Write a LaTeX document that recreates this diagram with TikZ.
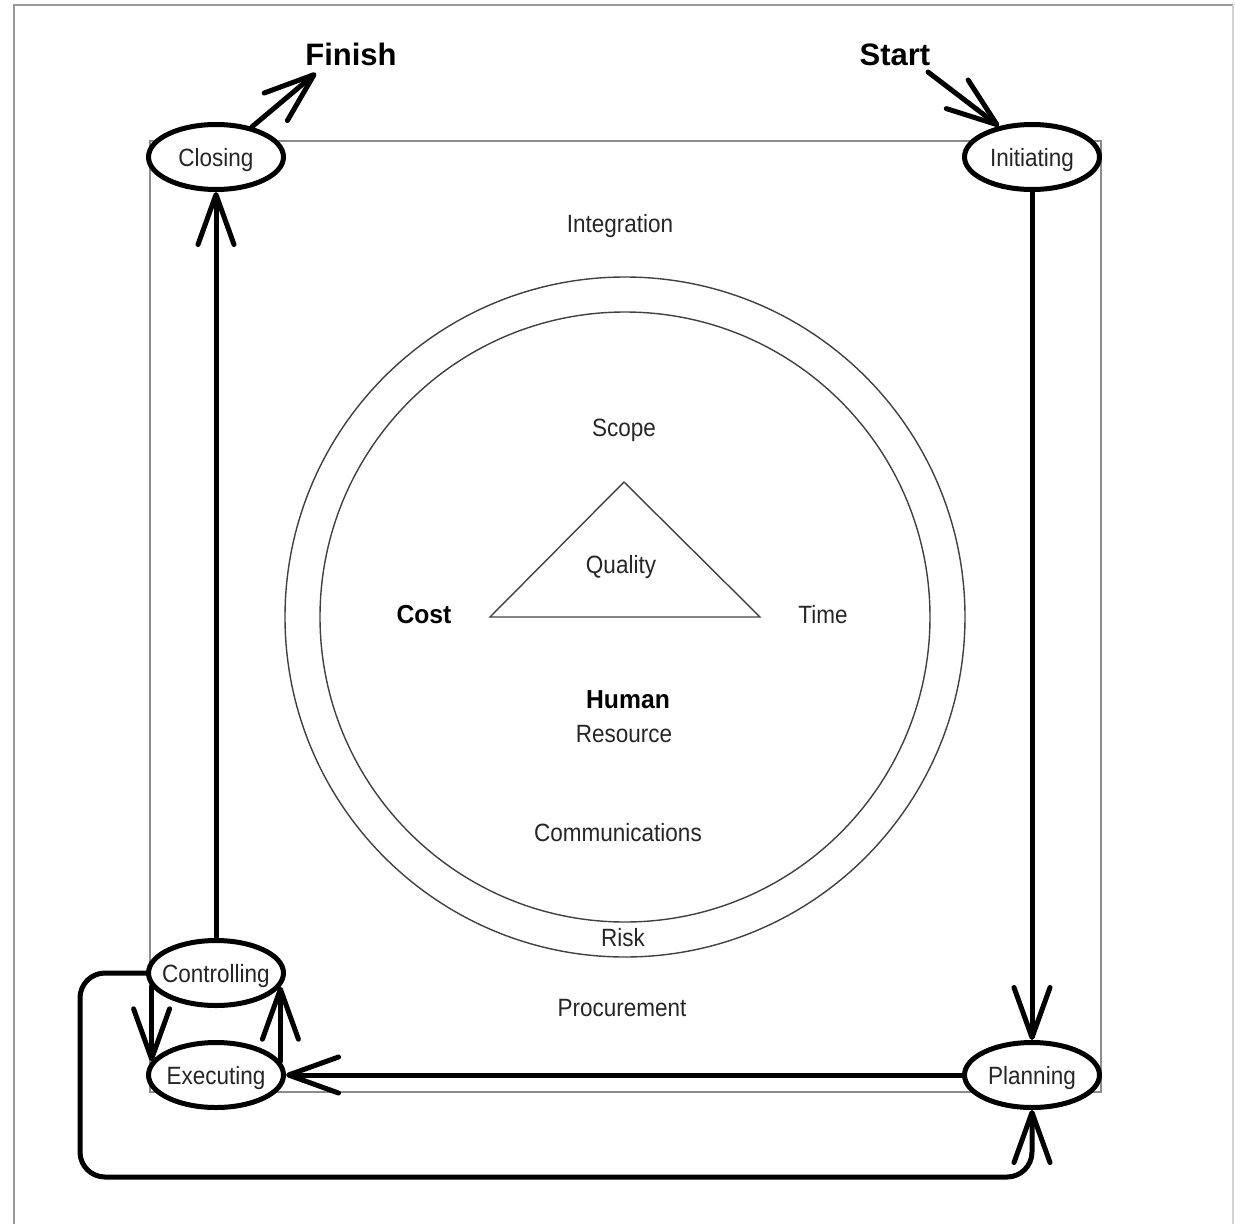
\documentclass[tikz,border=0pt]{standalone}
\usepackage{fontspec}
\setmainfont{Liberation Sans}
\newfontfamily\lblfont[FakeStretch=0.9]{Liberation Sans}
\newfontfamily\heavyfont[FakeStretch=0.95]{Liberation Sans}
\usetikzlibrary{shapes.geometric,arrows.meta}

\begin{document}
\begin{tikzpicture}[x=1pt,y=-1pt,
  phase/.style={ellipse, draw=black, line width=5pt, fill=white,
    minimum width=135pt, minimum height=65pt, inner ysep=0pt, inner xsep=-25pt,
    font=\lblfont\fontsize{25}{30}\selectfont, text=black!85,
    text height=18pt, text depth=0pt},
  area/.style={font=\lblfont\fontsize{25}{30}\selectfont, text=black!85,
    inner sep=0pt, text height=18pt, text depth=0pt},
  keyarea/.style={font=\heavyfont\bfseries\fontsize{26}{30}\selectfont,
    text=black, inner sep=0pt, text height=18.5pt, text depth=0pt},
  endpoint/.style={font=\bfseries\fontsize{31}{36}\selectfont, text=black,
    inner sep=0pt, text height=22pt, text depth=0pt},
  flow/.style={line width=5pt, line cap=round, line join=round,
    -{Straight Barb[length=50pt,width=36pt,round]}},
  frame/.style={draw=black!45, line width=1.5pt},
  ring/.style={draw=black!75, line width=1.4pt}
]
\useasboundingbox (0,0) rectangle (1235,1224);

% outer page frame (open at the bottom)
\draw[black!40, line width=2pt] (14,1224) -- (14,5) -- (1233,5);
\draw[black!18, line width=1.5pt] (1233,5) -- (1233,1224);

% project boundary
\draw[frame] (150,141) rectangle (1101,1092);

% knowledge areas: two rings and the triple constraint
\draw[ring] (625,617) circle[radius=340];
\draw[ring] (625,617) circle[radius=305];
\draw[ring, line join=miter] (624,482) -- (490,617) -- (760,617) -- cycle;

\node[area] (integ) at (620,223) {Integration};
\node[area] (scope) at (624,427) {Scope};
\node[area] (qual) at (621,564) {Quality};
\node[keyarea] (cost) at (424,614) {Cost};
\node[area] (time) at (823,614) {Time};
\node[keyarea] (human) at (628,699) {Human};
\node[area] (res) at (624,733) {Resource};
\node[area] (comm) at (618,832) {Communications};
\node[area] (risk) at (623,937) {Risk};
\node[area] (proc) at (622,1007) {Procurement};

% process groups
\node[phase] (clos) at (216,157) {Closing};
\node[phase] (init) at (1032,157) {Initiating};
\node[phase] (ctrl) at (216,973) {Controlling};
\node[phase] (exec) at (216,1075) {Executing};
\node[phase] (plan) at (1032,1075) {Planning};

\node[endpoint] (finish) at (351,54) {Finish};
\node[endpoint] (start) at (895,54) {Start};
\coordinate (fintip) at (316,73);
\coordinate (startfoot) at (928,72);

% process flow
\draw[flow] (startfoot) -- (init.137);
\draw[flow] (init) -- (plan);
\draw[flow] (plan) -- (exec);
\draw[flow] (ctrl.192) -- (exec.168);
\draw[flow] (exec.12) -- (ctrl.-12);
\draw[flow] (ctrl) -- (clos);
\draw[flow] (clos.40) -- (fintip);
\draw[flow, rounded corners=25pt] (ctrl.west) -- (80,973) -- (80,1177)
  -- (1032,1177) -- (plan.south);
\end{tikzpicture}
\end{document}
